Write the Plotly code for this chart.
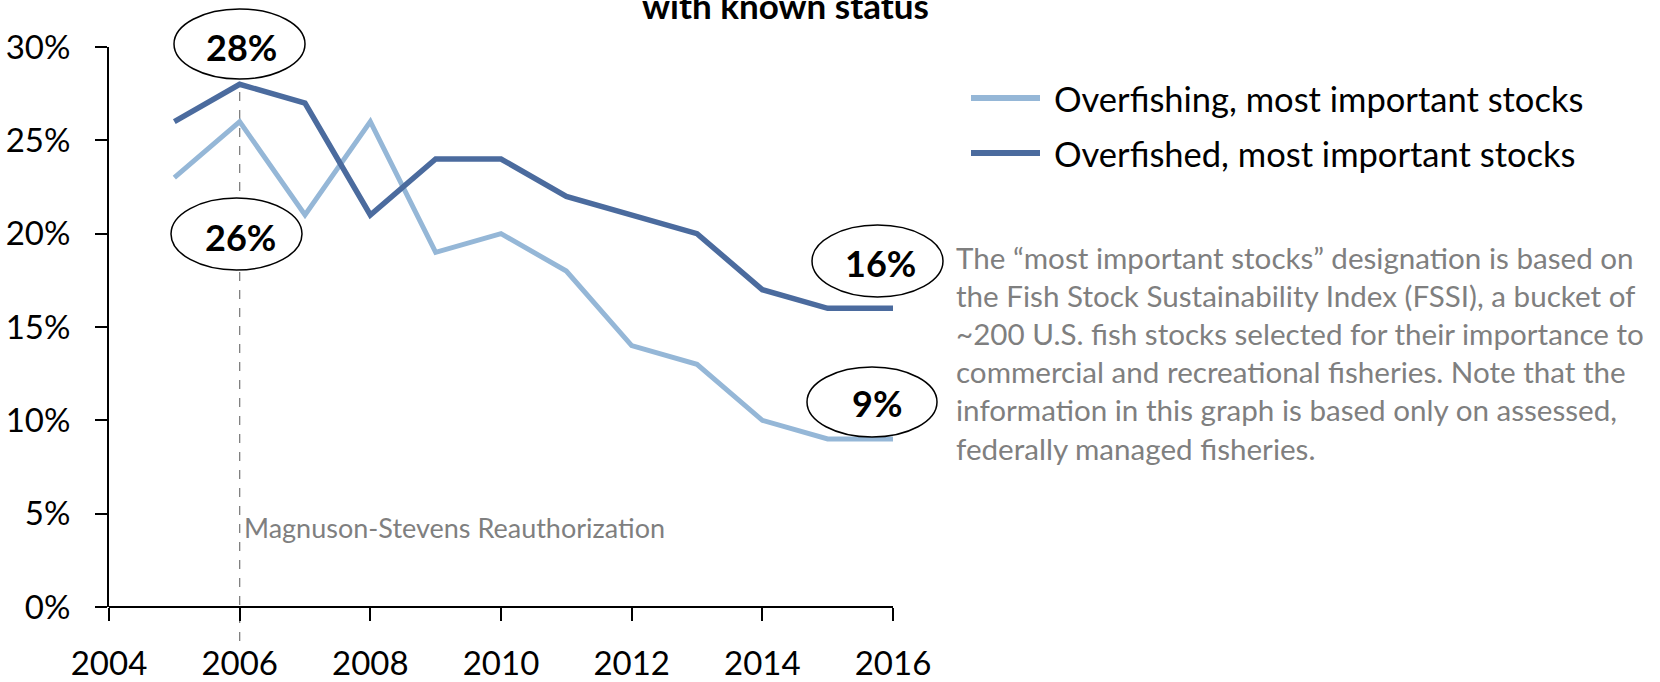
import plotly.graph_objects as go

# ---------------- data ----------------
years = [2005, 2006, 2007, 2008, 2009, 2010, 2011, 2012, 2013, 2014, 2015, 2016]
overfishing = [0.23, 0.26, 0.21, 0.26, 0.19, 0.20, 0.18, 0.14, 0.13, 0.10, 0.09, 0.09]
overfished = [0.26, 0.28, 0.27, 0.21, 0.24, 0.24, 0.22, 0.21, 0.20, 0.17, 0.16, 0.16]
series_names = ["Overfishing, most important stocks", "Overfished, most important stocks"]
x_ticks = [2004, 2006, 2008, 2010, 2012, 2014, 2016]
y_ticks = [0, 0.05, 0.10, 0.15, 0.20, 0.25, 0.30]
event_year = 2006
event_label = "Magnuson-Stevens Reauthorization"
title_text = "with known status"
note_lines = [
    "The \u201cmost important stocks\u201d designation is based on",
    "the Fish Stock Sustainability Index (FSSI), a bucket of",
    "~200 U.S. fish stocks selected for their importance to",
    "commercial and recreational fisheries. Note that the",
    "information in this graph is based only on assessed,",
    "federally managed fisheries.",
]

# ---------------- layout geometry ----------------
W, H = 1660, 682
L, R, T, B = 109, 767, 47, 75
PW = W - L - R
PH = H - T - B
BOTTOM = H - B

def px(X):
    return (X - L) / PW

def py(Y):
    return (BOTTOM - Y) / PH

LIGHT = "#95B7D7"
DARK = "#4B6B9E"
GRAY = "#7F7F7F"
FONT = "Lato"

fig = go.Figure()
fig.add_trace(go.Scatter(x=years, y=overfishing, mode="lines", name=series_names[0],
                         line=dict(color=LIGHT, width=5), showlegend=False))
fig.add_trace(go.Scatter(x=years, y=overfished, mode="lines", name=series_names[1],
                         line=dict(color=DARK, width=5.5), showlegend=False))

shapes = []
annotations = []

# event dashed line
ev_idx = years.index(event_year)
shapes.append(dict(type="line", xref="x", yref="paper", x0=event_year, x1=event_year,
                   y0=py(641), y1=overfished[ev_idx] / y_ticks[-1],
                   line=dict(color=GRAY, width=1.3, dash="dash"), layer="below"))
annotations.append(dict(xref="paper", yref="paper", x=px(242), y=py(527), xanchor="left",
                        yanchor="middle", text=event_label, showarrow=False,
                        font=dict(family=FONT, size=27, color=GRAY)))

# oval callouts
def pct(v):
    return f"{round(v * 100):d}%"

callouts = [
    (pct(overfished[ev_idx]), (174, 305, 9, 79), (241, 47)),
    (pct(overfishing[ev_idx]), (171, 302, 198, 270), (240, 237)),
    (pct(overfished[-1]), (812, 943, 225, 297), (880, 263)),
    (pct(overfishing[-1]), (807, 937, 367, 437), (877, 403)),
]
for txt, (x0, x1, y0, y1), (tx, ty) in callouts:
    shapes.append(dict(type="circle", xref="paper", yref="paper", x0=px(x0), x1=px(x1),
                       y0=py(y1), y1=py(y0), fillcolor="white",
                       line=dict(color="black", width=1.5), layer="above"))
    annotations.append(dict(xref="paper", yref="paper", x=px(tx), y=py(ty), xanchor="center",
                            yanchor="middle", text=f"<b>{txt}</b>", showarrow=False,
                            font=dict(family=FONT, size=36, color="black")))

# manual legend
for (name, color, yy) in [(series_names[0], LIGHT, 98), (series_names[1], DARK, 153)]:
    shapes.append(dict(type="line", xref="paper", yref="paper", x0=px(971), x1=px(1040),
                       y0=py(yy), y1=py(yy), line=dict(color=color, width=6)))
    annotations.append(dict(xref="paper", yref="paper", x=px(1052), y=py(yy), xanchor="left",
                            yanchor="middle", text=name, showarrow=False,
                            font=dict(family=FONT, size=34.5, color="black")))

# note text
for i, line in enumerate(note_lines):
    yy = 257 + i * (448 - 257) / (len(note_lines) - 1)
    annotations.append(dict(xref="paper", yref="paper", x=px(954), y=py(yy), xanchor="left",
                            yanchor="middle", text=line, showarrow=False,
                            font=dict(family=FONT, size=29.6, color=GRAY)))

# clipped title
annotations.append(dict(xref="paper", yref="paper", x=px(785), y=py(5), xanchor="center",
                        yanchor="middle", text=f"<b>{title_text}</b>", showarrow=False,
                        font=dict(family=FONT, size=35, color="black")))

fig.update_layout(
    width=W, height=H, autosize=False,
    margin=dict(l=L, r=R, t=T, b=B, pad=0, autoexpand=False),
    paper_bgcolor="white", plot_bgcolor="white",
    font=dict(family=FONT, color="black"),
    shapes=shapes, annotations=annotations,
    showlegend=False,
)
fig.update_xaxes(range=[x_ticks[0], x_ticks[-1]], tickvals=x_ticks, ticktext=[str(t) for t in x_ticks],
                 showgrid=False, zeroline=False, showline=False, automargin=False,
                 ticks="outside", ticklen=13, tickwidth=2, tickcolor="black",
                 tickfont=dict(family=FONT, size=33, color="black"), ticklabelstandoff=14)
fig.update_yaxes(range=[y_ticks[0], y_ticks[-1]], tickvals=y_ticks, tickformat=".0%",
                 showgrid=False, zeroline=True, zerolinecolor="black", zerolinewidth=2,
                 showline=True, linecolor="black", linewidth=2, automargin=False,
                 ticks="outside", ticklen=12, tickwidth=2, tickcolor="black",
                 tickfont=dict(family=FONT, size=33, color="black"), ticklabelstandoff=18)

fig.write_html("out.html", config={"displayModeBar": False},
               post_script="document.body.style.margin='0';")
